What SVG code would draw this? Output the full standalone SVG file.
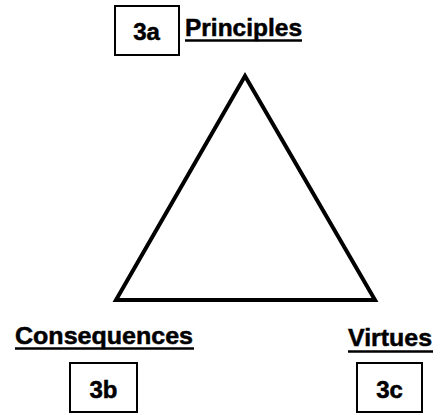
<svg xmlns="http://www.w3.org/2000/svg" width="441" height="415" viewBox="0 0 441 415">
<style>
.box{fill:#fff;stroke:#000;stroke-width:2}
.t{font-family:"Liberation Sans",Arial,sans-serif;font-weight:bold;font-size:24px;fill:#000;stroke:#000;stroke-width:0.5}
.c{text-anchor:middle}
.ul{stroke:#000;stroke-width:2.5}
</style>
<rect width="441" height="415" fill="#fff"/>
<g id="connectors">
<polygon points="245,76 116,300 375,300" fill="none" stroke="#000" stroke-width="4" stroke-linejoin="miter"/>
</g>
<g id="node-3a">
<rect class="box" x="115" y="6" width="64" height="49"/>
<text class="t c" x="146.5" y="40">3a</text>
</g>
<g id="label-principles">
<text class="t" x="185" y="36" textLength="117" lengthAdjust="spacingAndGlyphs">Principles</text>
<line class="ul" x1="185" y1="40.5" x2="302" y2="40.5"/>
</g>
<g id="label-consequences">
<text class="t" x="15" y="343.5" textLength="178" lengthAdjust="spacingAndGlyphs">Consequences</text>
<line class="ul" x1="15" y1="348.5" x2="194" y2="348.5"/>
</g>
<g id="node-3b">
<rect class="box" x="70" y="363" width="67" height="49"/>
<text class="t c" x="103.5" y="397.5">3b</text>
</g>
<g id="label-virtues">
<text class="t" x="348" y="346" textLength="84" lengthAdjust="spacingAndGlyphs">Virtues</text>
<line class="ul" x1="348" y1="351.5" x2="433" y2="351.5"/>
</g>
<g id="node-3c">
<rect class="box" x="357" y="363" width="65" height="49"/>
<text class="t c" x="389.5" y="397.5">3c</text>
</g>
</svg>
